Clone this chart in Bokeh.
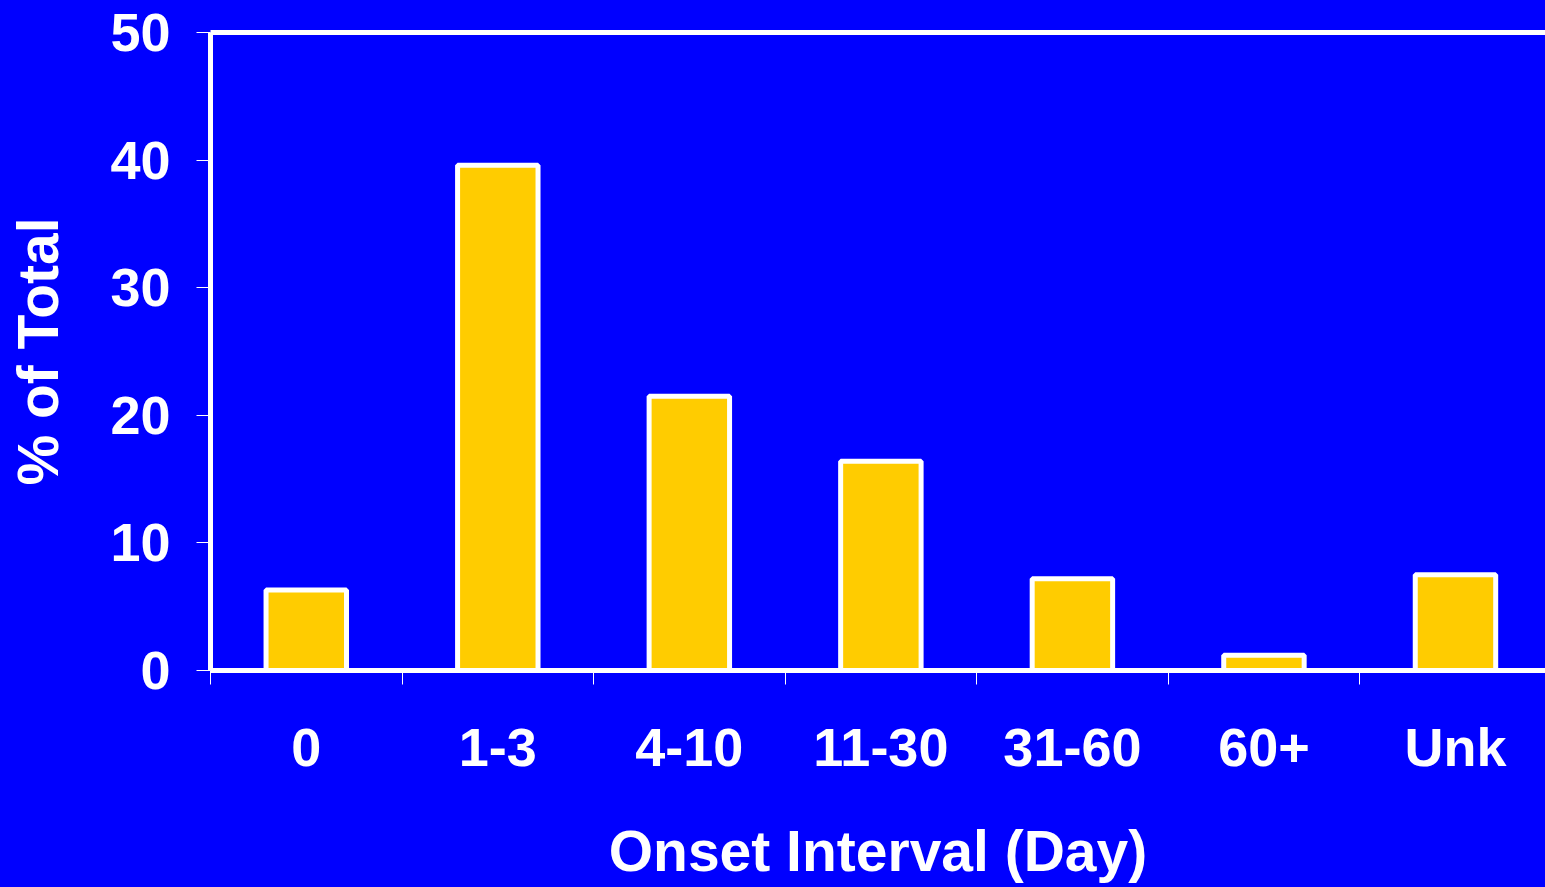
from bokeh.plotting import figure
from bokeh.models import Range1d, LinearAxis, FixedTicker, ColumnDataSource
from bokeh.embed import file_html
from bokeh.resources import INLINE

categories = ["0", "1-3", "4-10", "11-30", "31-60", "60+", "Unk"]
percent_of_total = [6.3, 39.6, 21.5, 16.4, 7.2, 1.2, 7.5]
y_ticks = [0, 10, 20, 30, 40, 50]
x_title = "Onset Interval (Day)"
y_title = "% of Total"

BLUE = "#0000FF"
YELLOW = "#FFCC00"
WHITE = "#FFFFFF"
FONT = "Liberation Sans"

x_centers = [i + 0.5 for i in range(len(categories))]
boundaries = list(range(len(categories) + 1))

source = ColumnDataSource(dict(x=x_centers, top=percent_of_total, cat=categories))

p = figure(width=1545, height=887,
           x_range=Range1d(0, 6.97), y_range=Range1d(0, 50),
           output_backend="svg", toolbar_location=None,
           min_border_left=210, min_border_top=32, min_border_right=0,
           min_border_bottom=217,
           background_fill_color=BLUE, border_fill_color=BLUE,
           outline_line_color=None)
p.xgrid.visible = False
p.ygrid.visible = False

p.vbar(x="x", top="top", bottom=0, width=0.42, source=source,
       fill_color=YELLOW, line_color=WHITE, line_width=5)

# x axis
xa = p.xaxis[0]
xa.ticker = FixedTicker(ticks=x_centers, minor_ticks=boundaries)
xa.major_label_overrides = {c: lab for c, lab in zip(x_centers, categories)}
xa.major_tick_out = 0
xa.major_tick_in = 0
xa.minor_tick_out = 14
xa.minor_tick_in = 0
xa.minor_tick_line_color = WHITE
xa.minor_tick_line_width = 1
xa.axis_line_color = WHITE
xa.axis_line_width = 5
xa.major_label_text_color = WHITE
xa.major_label_text_font = FONT
xa.major_label_text_font_style = "bold"
xa.major_label_text_font_size = "54px"
xa.major_label_standoff = 32
xa.axis_label = x_title
xa.axis_label_text_color = WHITE
xa.axis_label_text_font = FONT
xa.axis_label_text_font_style = "bold"
xa.axis_label_text_font_size = "57px"
xa.axis_label_standoff = 39

# y axis
ya = p.yaxis[0]
ya.ticker = FixedTicker(ticks=y_ticks)
ya.major_tick_out = 14
ya.major_tick_in = 0
ya.minor_tick_line_color = None
ya.major_tick_line_color = WHITE
ya.major_tick_line_width = 1
ya.axis_line_color = WHITE
ya.axis_line_width = 5
ya.major_label_text_color = WHITE
ya.major_label_text_font = FONT
ya.major_label_text_font_style = "bold"
ya.major_label_text_font_size = "54px"
ya.major_label_standoff = 26
ya.axis_label = y_title
ya.axis_label_text_color = WHITE
ya.axis_label_text_font = FONT
ya.axis_label_text_font_style = "bold"
ya.axis_label_text_font_size = "57px"
ya.axis_label_standoff = 37

# top border line
top = LinearAxis(ticker=FixedTicker(ticks=[]), major_label_text_font_size="0px",
                 axis_line_color=WHITE, axis_line_width=5,
                 major_tick_line_color=None, minor_tick_line_color=None)
p.add_layout(top, "above")

html = file_html(p, INLINE)
html = html.replace("<head>", "<head><style>html,body{background:#0000FF;}</style>", 1)
open("out.html", "w").write(html)
